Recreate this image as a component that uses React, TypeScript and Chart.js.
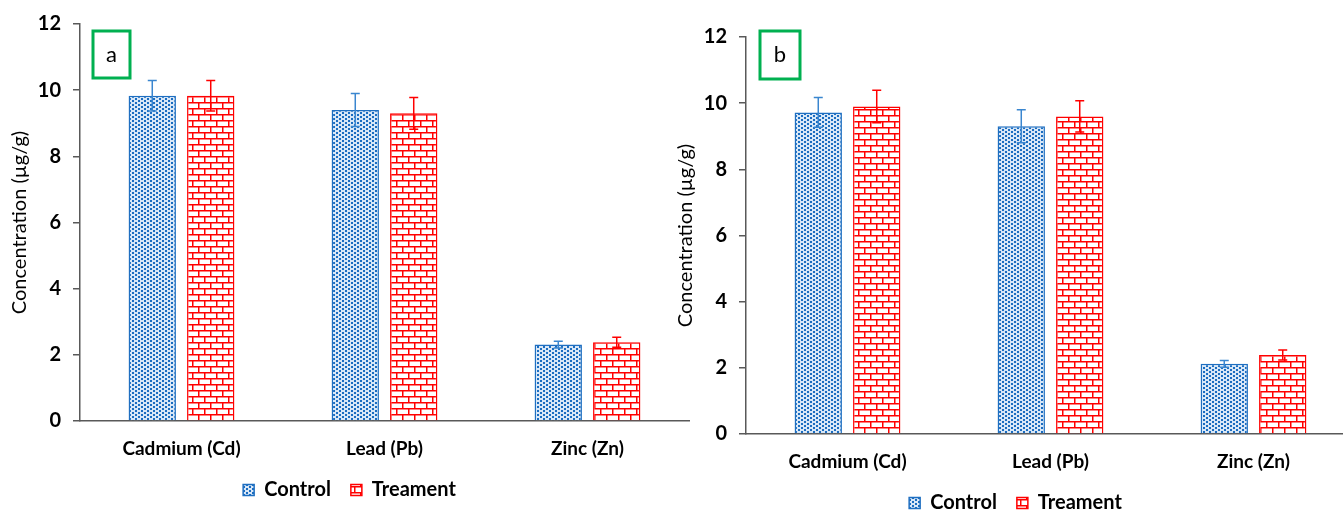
import React, { useEffect, useRef } from "react";
import { Chart, registerables } from "chart.js";

Chart.register(...registerables);

const categories = ["Cadmium (Cd)", "Lead (Pb)", "Zinc (Zn)"];
const seriesNames = ["Control", "Treament"];
const yTicks = [0, 2, 4, 6, 8, 10, 12];

const controlA = [9.83, 9.4, 2.31];
const controlErrA = [0.46, 0.5, 0.1];
const treatA = [9.83, 9.3, 2.38];
const treatErrA = [0.46, 0.48, 0.15];

const controlB = [9.72, 9.3, 2.12];
const controlErrB = [0.45, 0.5, 0.1];
const treatB = [9.9, 9.6, 2.39];
const treatErrB = [0.49, 0.47, 0.15];

const FONT = "Lato";
const BLUE = "#1f6fc1";
const BLUE_ERR = "#3a86cf";
const RED = "#ff0000";
const AXIS = "#595959";
const GREEN = "#00b050";

function makeDotPattern(): CanvasPattern | string {
  const c = document.createElement("canvas");
  c.width = 6;
  c.height = 4;
  const ctx = c.getContext("2d");
  if (!ctx) return BLUE;
  ctx.fillStyle = "#d8e7f7";
  ctx.fillRect(0, 0, 6, 4);
  ctx.fillStyle = "#1a6cc0";
  ctx.fillRect(0, 0, 2, 2);
  ctx.fillRect(3, 2, 2, 2);
  return ctx.createPattern(c, "repeat") || BLUE;
}

function makeBrickPattern(): CanvasPattern | string {
  const c = document.createElement("canvas");
  c.width = 12;
  c.height = 12;
  const ctx = c.getContext("2d");
  if (!ctx) return RED;
  ctx.fillStyle = "#ffffff";
  ctx.fillRect(0, 0, 12, 12);
  ctx.fillStyle = RED;
  ctx.fillRect(0, 0, 12, 1.5);
  ctx.fillRect(0, 6, 12, 1.5);
  ctx.fillRect(0, 0, 1.5, 6);
  ctx.fillRect(6, 6, 1.5, 6);
  return ctx.createPattern(c, "repeat") || RED;
}

const errorBarPlugin = {
  id: "errorBars",
  afterDatasetsDraw(chart: any) {
    const ctx = chart.ctx;
    const yScale = chart.scales.y;
    chart.data.datasets.forEach((ds: any, i: number) => {
      const meta = chart.getDatasetMeta(i);
      const errs: number[] = ds.errors || [];
      meta.data.forEach((el: any, j: number) => {
        const v = ds.data[j];
        const e = errs[j] || 0;
        const yTop = yScale.getPixelForValue(v + e);
        const yBot = yScale.getPixelForValue(v - e);
        const x = el.x;
        ctx.save();
        ctx.strokeStyle = ds.errorColor;
        ctx.lineWidth = 1.5;
        ctx.beginPath();
        ctx.moveTo(x, yTop);
        ctx.lineTo(x, yBot);
        ctx.moveTo(x - 4.5, yTop);
        ctx.lineTo(x + 4.5, yTop);
        ctx.moveTo(x - 4.5, yBot);
        ctx.lineTo(x + 4.5, yBot);
        ctx.stroke();
        ctx.restore();
      });
    });
  },
};

const panelLabelPlugin = {
  id: "panelLabel",
  afterDraw(chart: any, _args: any, opts: any) {
    const ctx = chart.ctx;
    ctx.save();
    ctx.strokeStyle = GREEN;
    ctx.lineWidth = 3;
    ctx.strokeRect(opts.x, opts.y, opts.w, opts.h);
    ctx.fillStyle = "#000";
    ctx.font = `22px ${FONT}`;
    ctx.textAlign = "center";
    ctx.textBaseline = "middle";
    ctx.fillText(opts.text, opts.x + opts.w / 2, opts.y + opts.h / 2);
    ctx.restore();
  },
};

const legendFitPlugin = {
  id: "legendFit",
  beforeLayout(chart: any) {
    const lg = chart.legend;
    if (lg && !lg.__patched) {
      const f = lg.fit.bind(lg);
      lg.fit = () => {
        f();
        lg.height = 50;
      };
      lg.__patched = true;
    }
  },
};

type PanelProps = {
  left: number;
  top: number;
  control: number[];
  controlErr: number[];
  treat: number[];
  treatErr: number[];
  label: string;
  box: { x: number; y: number; w: number; h: number };
};

function Panel(props: PanelProps) {
  const ref = useRef<HTMLCanvasElement | null>(null);
  useEffect(() => {
    if (!ref.current) return;
    const dot = makeDotPattern();
    const brick = makeBrickPattern();
    const chart = new Chart(ref.current, {
      type: "bar",
      data: {
        labels: categories,
        datasets: [
          {
            label: seriesNames[0],
            data: props.control,
            errors: props.controlErr,
            errorColor: BLUE_ERR,
            backgroundColor: dot as any,
            borderColor: BLUE,
            borderWidth: 1.5,
            categoryPercentage: 0.576,
            barPercentage: 0.81,
          } as any,
          {
            label: seriesNames[1],
            data: props.treat,
            errors: props.treatErr,
            errorColor: RED,
            backgroundColor: brick as any,
            borderColor: RED,
            borderWidth: 1.5,
            categoryPercentage: 0.576,
            barPercentage: 0.81,
          } as any,
        ],
      },
      options: {
        responsive: false,
        animation: false,
        devicePixelRatio: 1,
        layout: { padding: { left: 10, right: 1, top: 21, bottom: 0 } },
        plugins: {
          tooltip: { enabled: false },
          legend: {
            position: "bottom",
            labels: {
              boxWidth: 11,
              boxHeight: 11,
              padding: 20,
              color: "#000",
              font: { family: FONT, size: 20, weight: "bold" },
            },
          },
          panelLabel: { ...props.box, text: props.label },
        } as any,
        scales: {
          x: {
            grid: { display: false, drawTicks: false },
            border: { display: true, color: AXIS, width: 1.5 },
            ticks: {
              color: "#000",
              padding: 16,
              font: { family: FONT, size: 19, weight: "bold" },
            },
            afterFit: (s: any) => {
              s.height = 39;
            },
          },
          y: {
            min: 0,
            max: 12,
            afterBuildTicks: (s: any) => {
              s.ticks = yTicks.map((v) => ({ value: v }));
            },
            grid: {
              display: true,
              drawOnChartArea: false,
              drawTicks: true,
              tickLength: 7,
              tickColor: AXIS,
              lineWidth: 1.5,
            },
            border: { display: true, color: AXIS, width: 1.5 },
            ticks: {
              color: "#000",
              padding: 12,
              font: { family: FONT, size: 20, weight: "bold" },
            },
            title: {
              display: true,
              text: "Concentration (µg/g)",
              color: "#000",
              padding: 0,
              font: { family: FONT, size: 20, lineHeight: 1 },
            },
            afterFit: (s: any) => {
              s.width = 70;
            },
          },
        },
      },
      plugins: [errorBarPlugin, panelLabelPlugin, legendFitPlugin],
    });
    return () => chart.destroy();
  }, []);
  return (
    <canvas
      ref={ref}
      width={690}
      height={510}
      style={{ position: "absolute", left: props.left, top: props.top, width: 690, height: 510 }}
    />
  );
}

export default function App() {
  return (
    <div
      style={{
        position: "fixed",
        left: 0,
        top: 0,
        width: 1343,
        height: 510,
        overflow: "hidden",
        background: "#fff",
      }}
    >
      <Panel
        left={0}
        top={0}
        control={controlA}
        controlErr={controlErrA}
        treat={treatA}
        treatErr={treatErrA}
        label="a"
        box={{ x: 93, y: 31, w: 37, h: 47 }}
      />
      <Panel
        left={666}
        top={13}
        control={controlB}
        controlErr={controlErrB}
        treat={treatB}
        treatErr={treatErrB}
        label="b"
        box={{ x: 94, y: 18, w: 40, h: 48 }}
      />
    </div>
  );
}
